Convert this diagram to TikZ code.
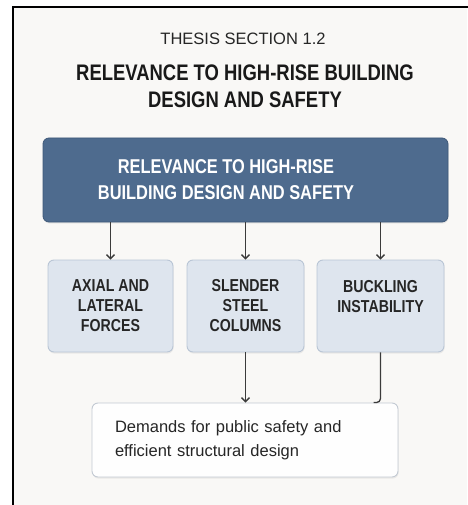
\documentclass[tikz,border=0pt]{standalone}
\usepackage{fontspec}
\setmainfont{Liberation Sans}
\newfontfamily\condfont[FakeStretch=0.82]{Liberation Sans}
\usetikzlibrary{arrows.meta,shadows}

\definecolor{pagebg}{HTML}{F9F8F6}
\definecolor{headblue}{HTML}{4E6B8E}
\definecolor{headline}{HTML}{3E5878}
\definecolor{topicfill}{HTML}{DEE5EE}
\definecolor{topicline}{HTML}{B9C5D5}
\definecolor{notefill}{HTML}{FEFEFE}
\definecolor{noteline}{HTML}{C3CAD3}
\definecolor{inkgray}{HTML}{3B3B3B}

\tikzset{
  softshadow/.style={drop shadow={opacity=0.12, shadow xshift=0.6pt, shadow yshift=-1.6pt}},
  mainbox/.style={draw=headline, fill=headblue, line width=0.8pt, rounded corners=6pt,
    minimum width=405pt, minimum height=84pt, softshadow},
  topic/.style={draw=topicline, fill=topicfill, line width=0.9pt, rounded corners=6pt,
    minimum height=92pt, align=center, text=black!85,
    font=\condfont\bfseries\fontsize{17.3}{20}\selectfont, softshadow},
  notebox/.style={draw=noteline, fill=notefill, line width=0.9pt, rounded corners=6pt,
    minimum width=306pt, minimum height=74pt, text width=260pt, align=left,
    inner xsep=23pt, text=black!85, font=\fontsize{16.5}{24}\selectfont, softshadow},
  link/.style={draw=inkgray, line width=1.3pt},
  linkarrow/.style={link, -{Straight Barb[length=4pt, width=8pt]}}
}

\begin{document}
\begin{tikzpicture}[x=1pt, y=-1pt]
  \useasboundingbox (0,0) rectangle (467,505);
  % page and frame
  \fill[white] (0,0) rectangle (467,505);
  \fill[pagebg] (13,7) rectangle (467,505);
  \draw[black, line width=2.6pt] (13,506) -- (13,7) -- (468,7);

  % headings
  \node[text=black!85, font=\fontsize{16.5}{20}\selectfont] (section) at (243,39) {THESIS SECTION 1.2};
  \node[text=black!90, align=center, font=\condfont\bfseries\fontsize{22.5}{27}\selectfont]
    (heading) at (245,86) {RELEVANCE TO HIGH-RISE BUILDING\\DESIGN AND SAFETY};

  % main box
  \node[mainbox] (main) at (245.5,180) {};
  \node[text=white, align=center, font=\condfont\bfseries\fontsize{20}{26}\selectfont]
    (maintxt) at (226,180) {RELEVANCE TO HIGH-RISE\\BUILDING DESIGN AND SAFETY};

  % three topics
  \node[topic, minimum width=125pt] (forces) at (110.5,306) {AXIAL AND\\LATERAL\\FORCES};
  \node[topic, minimum width=117pt] (columns) at (245.5,306) {SLENDER\\STEEL\\COLUMNS};
  \node[topic, minimum width=127pt] (buckling) at (380.5,306) {BUCKLING\\INSTABILITY\\\mbox{}};

  % demand box
  \node[notebox] (demands) at (245,440) {Demands for public safety and\\efficient structural design};

  % connectors
  \foreach \t in {forces,columns,buckling}
    \draw[linkarrow] (\t.north |- main.south) -- (\t.north);
  \draw[linkarrow] (columns.south) -- (demands.north -| columns.south);
  \coordinate (hook) at ([xshift=-7pt]buckling.south |- demands.north);
  \draw[link, rounded corners=4pt] (buckling.south) -- (buckling.south |- demands.north) -- (hook);
\end{tikzpicture}
\end{document}
